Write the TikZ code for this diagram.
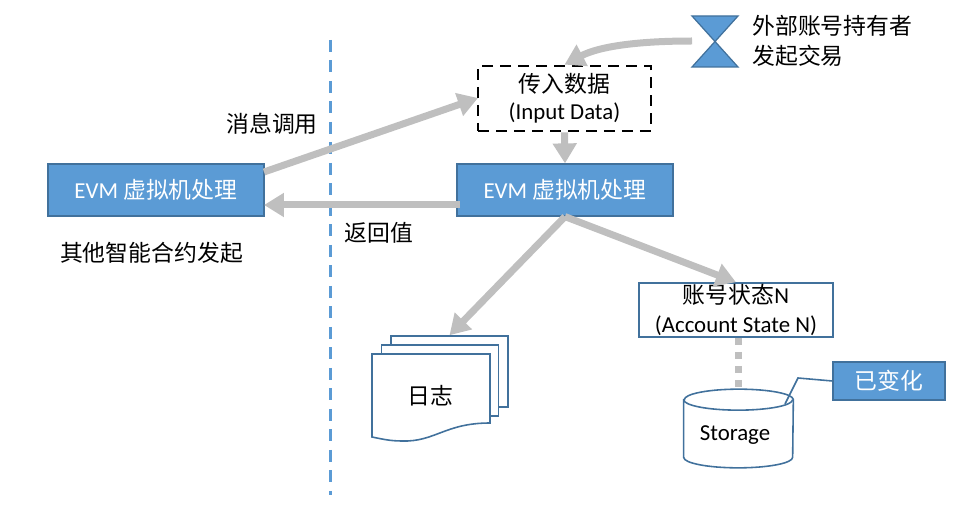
\documentclass[tikz,border=0pt]{standalone}
\usepackage{fontspec}
\setmainfont{Carlito}
\newfontfamily\cjk{Noto Sans CJK SC}
\usetikzlibrary{arrows.meta}
\definecolor{boxblue}{HTML}{5B9BD5}
\definecolor{boxedge}{HTML}{41719C}
\definecolor{flowgray}{HTML}{BFBFBF}

\begin{document}
\begin{tikzpicture}[x=0.02cm, y=-0.02cm, every node/.style={font=\fontsize{13}{15.3}\selectfont\cjk, align=center}]
  \useasboundingbox (0,0) rectangle (974,520);
  \tikzset{evmbox/.style={rectangle, draw=boxedge, fill=boxblue, text=white, line width=0.7pt, minimum width=4.32cm, minimum height=1.04cm, inner sep=0pt}}
  \tikzset{inputbox/.style={rectangle, draw=black, line width=0.055cm, dash pattern=on 0.22cm off 0.14cm, minimum width=3.46cm, minimum height=1.3cm, inner sep=0pt}}
  \tikzset{statebox/.style={rectangle, draw=boxedge, fill=white, line width=0.9pt, minimum width=3.88cm, minimum height=1.08cm, inner sep=0pt}}
  \tikzset{pagebox/.style={rectangle, draw=boxedge, fill=white, line width=0.9pt, minimum width=2.34cm, minimum height=1.42cm, inner sep=0pt}}
  \tikzset{plainlabel/.style={inner sep=0pt}}
  \tikzset{flowarrow/.style={-{Triangle[length=0.4cm,width=0.46cm]}, draw=flowgray, line width=0.14cm}}

  \node[evmbox] (sender) at (156,190) {\fontspec{Carlito}EVM {\cjk 虚拟机处理}};
  \node[evmbox] (evm) at (565,190) {\fontspec{Carlito}EVM {\cjk 虚拟机处理}};
  \node[inputbox] (input) at (564.5,98.5) {\raisebox{-1pt}{传入数据}\\[1pt]{\fontspec{Carlito}(Input Data)}};
  \node[statebox] (state) at (736,310) {账号状态{\fontspec{Carlito}N}\\[1pt]{\fontspec{Carlito}(Account State N)}};
  \node[evmbox, minimum width=2.24cm, minimum height=0.76cm] (changed) at (889,381) {已变化};
  \node[pagebox] (logback) at (449.5,371.5) {};
  \node[pagebox] (logmid) at (440,380.5) {};
  \node[minimum width=2.18cm, minimum height=1.14cm, inner sep=0pt] (storage) at (738.5,428.5) {};

  % front page of the log
  \draw[boxedge, fill=white, line width=0.9pt] (372,354) -- (490,354) -- (490,423)
    .. controls (445,423) and (435,442) .. (402,441) .. controls (390,441) and (382,439) .. (372,437) -- cycle;
  \node[plainlabel] (log) at (430,396) {日志};

  % storage drum
  \draw[boxedge, fill=white, line width=0.9pt] (storage.north west) -- (storage.south west)
    arc[start angle=180, end angle=0, x radius=54.5, y radius=10.5] -- (storage.north east)
    arc[start angle=0, end angle=-180, x radius=54.5, y radius=10.5] -- cycle;
  \draw[boxedge, line width=0.9pt] (storage.north west) arc[start angle=180, end angle=0, x radius=54.5, y radius=10.5];
  \node[plainlabel, font=\fontsize{13}{15.3}\selectfont\fontspec{Carlito}] (storagetext) at (735,435) {Storage};

  % external holder
  \draw[boxedge, fill=boxblue, line width=0.7pt] (692,16) -- (738,16) -- (692,67) -- (738,67) -- cycle;
  \node[plainlabel, anchor=west, align=left] (holdertext) at (752,41) {外部账号持有者\\[2pt]发起交易};
  \node[plainlabel] (calltext) at (272,124) {消息调用};
  \node[plainlabel] (returntext) at (379,233) {返回值};
  \node[plainlabel] (sendertext) at (151.5,253) {其他智能合约发起};

  \coordinate (holder) at (692,41);
  \coordinate (callstart) at (264,172);
  \coordinate (callend) at (478,98);
  \coordinate (returnstart) at (460,205);
  \coordinate (returnend) at (264,205);
  \coordinate (elbow) at (798,378);
  \coordinate (changedpoint) at (785,404);
  \coordinate (splittop) at (330,40);
  \coordinate (splitbottom) at (330,495);
  \coordinate (storagetop) at (738.5,389);

  \path (splittop) edge [draw=boxblue, line width=0.06cm, dash pattern=on 0.24cm off 0.17cm] (splitbottom);
  \draw[flowarrow] (holder) .. controls (640,41) and (600,46) .. (input.north);
  \path (callstart) edge [flowarrow] (callend);
  \path (input.south) edge [flowarrow] (evm.north);
  \path (returnstart) edge [flowarrow] (returnend);
  \path (evm.south) edge [flowarrow] (logback.north);
  \path (evm.south) edge [flowarrow] (state.north);
  \path (state.south -| storagetop) edge [draw=flowgray, line width=0.14cm, dash pattern=on 0.14cm off 0.14cm] (storagetop);
  \draw[boxedge, line width=0.9pt] (changed.west) -- (elbow) -- (changedpoint);
\end{tikzpicture}
\end{document}
